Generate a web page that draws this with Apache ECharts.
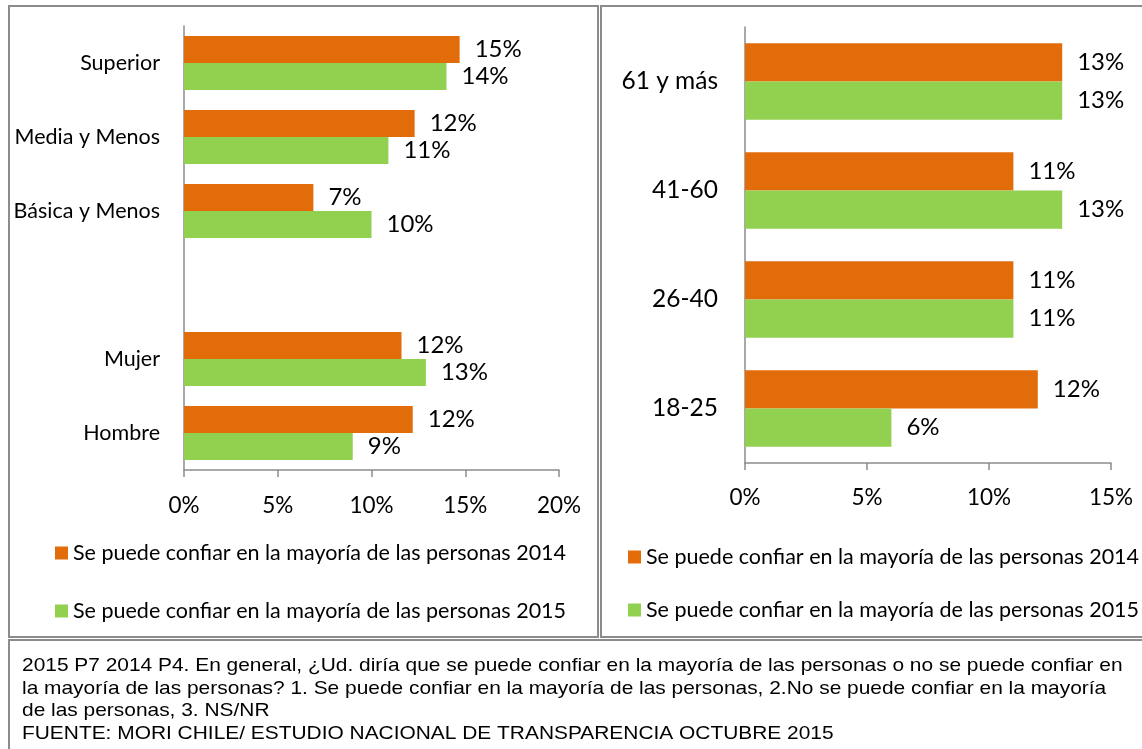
<!DOCTYPE html>
<html><head><meta charset="utf-8">
<script src="https://cdn.jsdelivr.net/npm/echarts@6/dist/echarts.min.js"></script>
<style>html,body{margin:0;padding:0;background:#fff}#c{width:1142px;height:749px}</style>
</head><body><div id="c"></div>
<script>
// Left panel (top to bottom)
const leftCategories = ['Superior', 'Media y Menos', 'Básica y Menos', '', 'Mujer', 'Hombre'];
const left2014 = [14.7, 12.3, 6.9, null, 11.6, 12.2];
const left2015 = [14.0, 10.9, 10.0, null, 12.9, 9.0];
// Right panel (top to bottom)
const rightCategories = ['61 y más', '41-60', '26-40', '18-25'];
const right2014 = [13.0, 11.0, 11.0, 12.0];
const right2015 = [13.0, 13.0, 11.0, 6.0];
const seriesNames = ['Se puede confiar en la mayoría de las personas 2014', 'Se puede confiar en la mayoría de las personas 2015'];
const leftTicks = [0, 5, 10, 15, 20];
const rightTicks = [0, 5, 10, 15];
const footnoteLines = [
  '2015 P7 2014 P4. En general, ¿Ud. diría que se puede confiar en la mayoría de las personas o no se puede confiar en',
  'la mayoría de las personas? 1. Se puede confiar en la mayoría de las personas, 2.No se puede confiar en la mayoría',
  'de las personas, 3. NS/NR',
  'FUENTE: MORI CHILE/ ESTUDIO NACIONAL DE TRANSPARENCIA OCTUBRE 2015'
];

const ORANGE = '#E36C0A', GREEN = '#92D050';
const FONT = 'Lato, "Open Sans", sans-serif';
const chart = echarts.init(document.getElementById('c'), null, {renderer: 'canvas'});

function xAxis(gridIndex, ticks, margin) {
  return {
    type: 'value', gridIndex, min: ticks[0], max: ticks[ticks.length - 1], interval: ticks[1] - ticks[0],
    axisLine: {show: true, lineStyle: {color: '#8c8c8c', width: 1.5}},
    axisTick: {show: true, length: 7, lineStyle: {color: '#8c8c8c', width: 1.5}},
    splitLine: {show: false},
    axisLabel: {formatter: v => v + '%', color: '#000', fontFamily: FONT, fontSize: 22.5, margin}
  };
}
function yAxis(gridIndex, cats, fs, margin) {
  return {
    type: 'category', gridIndex, data: cats, inverse: true,
    axisLine: {show: true, lineStyle: {color: '#8c8c8c', width: 1.5}},
    axisTick: {show: false},
    axisLabel: {color: '#000', fontFamily: FONT, fontSize: fs, margin}
  };
}
const lbl = {show: true, position: 'right', distance: 15, color: '#000', fontFamily: FONT, fontSize: 24,
  formatter: p => Math.round(p.value) + '%'};
const legendText = {fontFamily: FONT, fontSize: 21.5, color: '#000'};

chart.setOption({
  animation: false,
  grid: [
    {left: 184, right: 1142 - 559, top: 26, bottom: 749 - 470},
    {left: 745, right: 1142 - 1111, top: 27, bottom: 749 - 463}
  ],
  xAxis: [xAxis(0, leftTicks, 24), xAxis(1, rightTicks, 23)],
  yAxis: [yAxis(0, leftCategories, 21.5, 24), yAxis(1, rightCategories, 24.5, 27)],
  legend: [
    {orient: 'vertical', left: 50, top: 537, itemWidth: 13, itemHeight: 13, itemGap: 36, icon: 'rect',
     textStyle: legendText, data: seriesNames},
    {orient: 'vertical', left: 623, top: 541, itemWidth: 13, itemHeight: 13, itemGap: 31, icon: 'rect',
     textStyle: legendText, data: seriesNames}
  ],
  series: [
    {name: seriesNames[0], type: 'bar', xAxisIndex: 0, yAxisIndex: 0, data: left2014, barGap: '0%', barCategoryGap: '27%', itemStyle: {color: ORANGE}, label: lbl},
    {name: seriesNames[1], type: 'bar', xAxisIndex: 0, yAxisIndex: 0, data: left2015, barGap: '0%', barCategoryGap: '27%', itemStyle: {color: GREEN}, label: lbl},
    {name: seriesNames[0], type: 'bar', xAxisIndex: 1, yAxisIndex: 1, data: right2014, barGap: '0%', barCategoryGap: '30%', itemStyle: {color: ORANGE}, label: lbl},
    {name: seriesNames[1], type: 'bar', xAxisIndex: 1, yAxisIndex: 1, data: right2015, barGap: '0%', barCategoryGap: '30%', itemStyle: {color: GREEN}, label: lbl}
  ],
  graphic: [
    {type: 'rect', shape: {x: 9, y: 6, width: 589, height: 631}, style: {fill: 'none', stroke: '#8c8c8c', lineWidth: 2}, silent: true, z: -1},
    {type: 'rect', shape: {x: 601, y: 6, width: 560, height: 631}, style: {fill: 'none', stroke: '#8c8c8c', lineWidth: 2}, silent: true, z: -1},
    {type: 'rect', shape: {x: 9, y: 640, width: 1160, height: 130}, style: {fill: 'none', stroke: '#8c8c8c', lineWidth: 2}, silent: true, z: -1},
    {type: 'text', x: 22, y: 655, scaleX: 1.13, originX: 0, originY: 0,
     style: {text: footnoteLines.join('\n'), font: '18.5px "Liberation Sans", Arial, sans-serif', fill: '#000', lineHeight: 22.5}}
  ]
});
</script></body></html>
